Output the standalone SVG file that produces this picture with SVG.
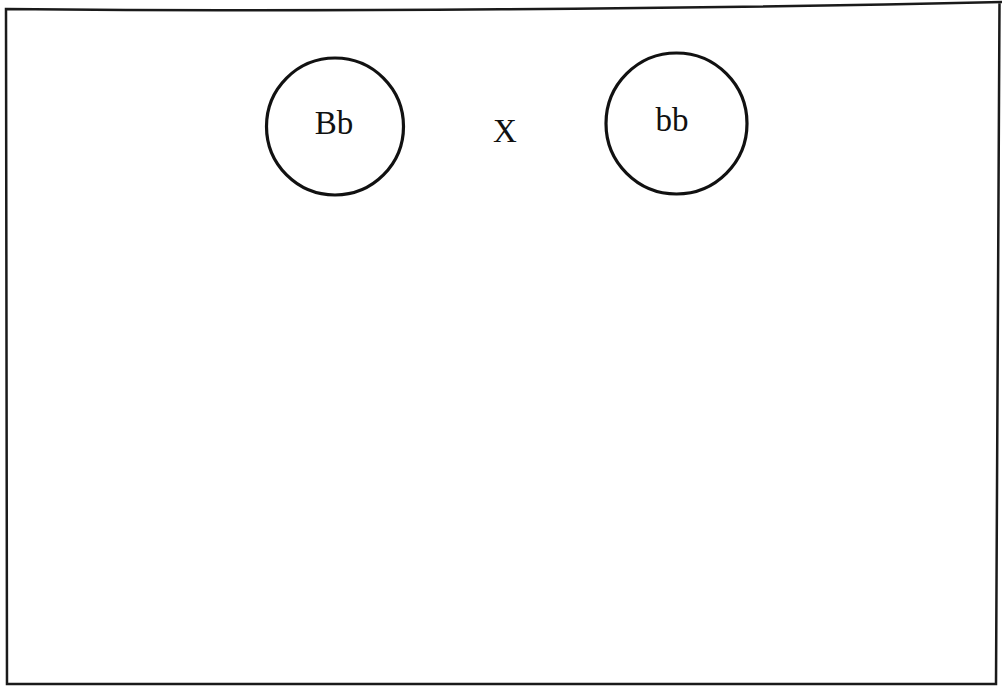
<svg xmlns="http://www.w3.org/2000/svg" width="1002" height="686" viewBox="0 0 1002 686">
<style>
.frame{fill:none;stroke:#1a1a1a;stroke-width:2.5;stroke-linejoin:miter}
.node{fill:none;stroke:#111;stroke-width:3.2}
.lbl{font-family:"Liberation Serif","Times New Roman",serif;font-size:33px;fill:#111;text-anchor:middle}
</style>
<rect width="1002" height="686" fill="#fff"/>
<g id="frame">
<path class="frame" d="M999.5,1 L996,684 L7,684 L6,9 C300,12 700,9 1002,2"/>
</g>
<g id="node-Bb">
<circle class="node" cx="335" cy="126.5" r="68.5"/>
<text class="lbl" x="334" y="134">Bb</text>
</g>
<g id="cross">
<text class="lbl" x="505" y="142">X</text>
</g>
<g id="node-bb">
<circle class="node" cx="676.5" cy="123.5" r="70.5"/>
<text class="lbl" x="672" y="131">bb</text>
</g>
<g id="connectors"></g>
</svg>
